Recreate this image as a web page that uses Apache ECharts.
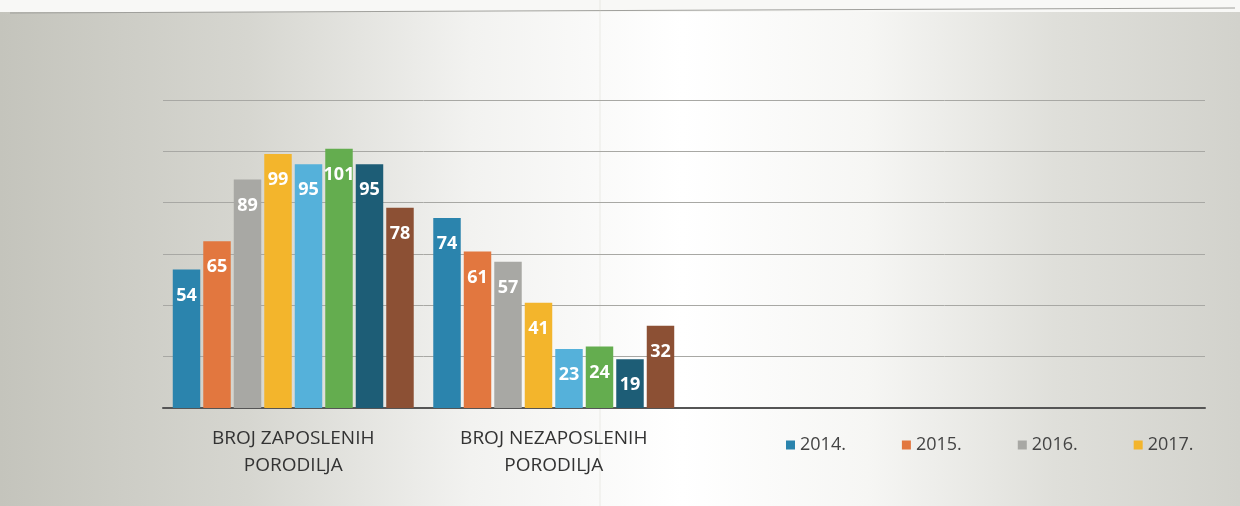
<!DOCTYPE html>
<html><head><meta charset="utf-8">
<script src="https://cdn.jsdelivr.net/npm/echarts@6/dist/echarts.min.js"></script>
<style>html,body{margin:0;padding:0;background:#f4f4f2}#c{width:1240px;height:506px}</style>
</head><body><div id="c"></div>
<script>
const categories = ['BROJ ZAPOSLENIH\nPORODILJA', 'BROJ NEZAPOSLENIH\nPORODILJA', '', ''];
const seriesNames = ['2014.', '2015.', '2016.', '2017.', '2018.', '2019.', '2020.', '2021.'];
const values2014 = [54, 74];
const values2015 = [65, 61];
const values2016 = [89, 57];
const values2017 = [99, 41];
const values2018 = [95, 23];
const values2019 = [101, 24];
const values2020 = [95, 19];
const values2021 = [78, 32];
const legendNames = ['2014.', '2015.', '2016.', '2017.'];
const allValues = [values2014, values2015, values2016, values2017, values2018, values2019, values2020, values2021];
const colors = ['#2b84ad', '#e2773f', '#a8a8a4', '#f3b52c', '#55b1da', '#64ad4f', '#1d5d76', '#8c5034'];

const chart = echarts.init(document.getElementById('c'));
chart.setOption({
  animation: false,
  backgroundColor: {
    type: 'linear', x: 0, y: 0, x2: 1, y2: 0,
    colorStops: [{offset: 0, color: '#c4c4bc'}, {offset: 0.2, color: '#d6d6d0'}, {offset: 0.38, color: '#f2f2f0'}, {offset: 0.55, color: '#ffffff'}, {offset: 0.7, color: '#f6f6f4'}, {offset: 0.85, color: '#dfdfda'}, {offset: 1, color: '#d2d2cc'}]
  },
  graphic: [
    {type: 'rect', shape: {x: 0, y: 0, width: 1240, height: 12}, style: {fill: '#f8f8f6'}, z: -1},
    {type: 'line', shape: {x1: 10, y1: 13, x2: 1235, y2: 8}, style: {stroke: '#a0a09c', lineWidth: 1.2}},
    {type: 'line', shape: {x1: 600, y1: 0, x2: 600, y2: 506}, style: {stroke: 'rgba(200,200,190,0.35)', lineWidth: 1}}
  ],
  color: colors,
  grid: {left: 163, right: 35, top: 100, bottom: 98},
  legend: {
    data: legendNames,
    left: 781, top: 431,
    itemWidth: 9, itemHeight: 9, itemGap: 56, icon: 'rect',
    textStyle: {fontFamily: 'Open Sans', fontSize: 18, color: '#444'}
  },
  xAxis: {
    type: 'category', data: categories,
    axisLine: {lineStyle: {color: '#555', width: 2}},
    axisTick: {show: false},
    axisLabel: {fontFamily: 'Open Sans', fontSize: 19, color: '#333', lineHeight: 27, margin: 17, interval: 0}
  },
  yAxis: {
    type: 'value', min: 0, max: 120, interval: 20,
    axisLabel: {show: false}, axisLine: {show: false}, axisTick: {show: false},
    splitLine: {lineStyle: {color: '#a8a8a4', width: 1}}
  },
  series: seriesNames.map((n, i) => ({
    name: n, type: 'bar', data: allValues[i],
    barGap: '11%', barCategoryGap: '7.5%',
    label: {show: true, position: 'insideTop', distance: 17, color: '#fff', fontWeight: 'bold', fontSize: 18, fontFamily: 'Open Sans'}
  }))
});
</script></body></html>
